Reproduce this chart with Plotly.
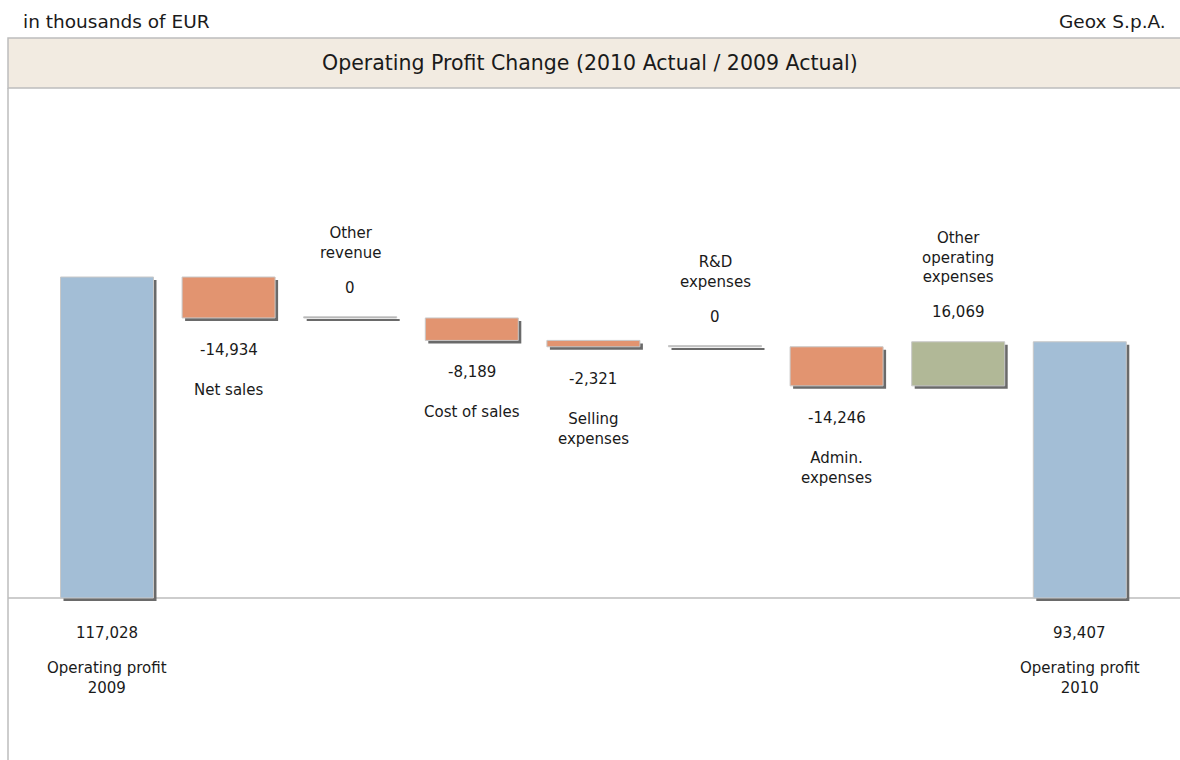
import plotly.graph_objects as go

# ---------------- data ----------------
categories = ["Operating profit<br>2009", "Net sales", "Other<br>revenue", "Cost of sales",
              "Selling<br>expenses", "R&D<br>expenses", "Admin.<br>expenses",
              "Other<br>operating<br>expenses", "Operating profit<br>2010"]
values = [117028, -14934, 0, -8189, -2321, 0, -14246, 16069, 93407]
kinds = ["total", "delta", "delta", "delta", "delta", "delta", "delta", "delta", "total"]
value_labels = ["117,028", "-14,934", "0", "-8,189", "-2,321", "0", "-14,246", "16,069", "93,407"]

# ---------------- styles ----------------
C_TOTAL = "#A3BED6"
C_NEG = "#E29470"
C_POS = "#B1B897"
C_ZERO = "#9A9A9A"
SHADOW = "#6A6A6A"
FONT = "DejaVu Sans"
TXT = "#1a1a1a"

W, H = 1180, 760
TOP = 88           # top of plot area (below header band)
ZERO_PX = 598      # pixel row of baseline
PX_PER_UNIT = 321 / 117028.0
X_PX0 = 8          # left edge of plot area
STEP_PX = 121.6    # distance between bar centres
FIRST_PX = 107     # centre of first bar
PW = W - X_PX0
PH = H - TOP


def px(p):
    return (p - X_PX0) / PW


def py(q):
    return (H - q) / PH


# waterfall geometry
bases, heights, colors = [], [], []
level = 0
for v, k in zip(values, kinds):
    if k == "total":
        bases.append(0)
        heights.append(v)
        colors.append(C_TOTAL)
        level = v
    else:
        if v == 0:
            bases.append(level)
            heights.append(1.2 / PX_PER_UNIT)
            colors.append(C_ZERO)
        else:
            bases.append(level)
            heights.append(v)
            colors.append(C_NEG if v < 0 else C_POS)
        level += v

xs = list(range(len(categories)))
bar_w = 93 / STEP_PX
sh_dx = 3 / STEP_PX
sh_dy = 3 / PX_PER_UNIT

fig = go.Figure()
# shadows
shadow_base = [min(b, b + h) - sh_dy for b, h in zip(bases, heights)]
shadow_h = [abs(h) for h in heights]
fig.add_trace(go.Bar(x=[x + sh_dx for x in xs], y=shadow_h, base=shadow_base, width=bar_w,
                     marker=dict(color=SHADOW, line=dict(width=0)), hoverinfo="skip",
                     showlegend=False))
fig.add_trace(go.Bar(x=xs, y=heights, base=bases, width=bar_w,
                     marker=dict(color=colors, line=dict(color="#C8C8C8", width=1)),
                     hoverinfo="skip", showlegend=False))

ann = []
level = 0
for i, (v, k) in enumerate(zip(values, kinds)):
    if k == "total":
        ann.append(dict(x=i, y=0, text=value_labels[i], yanchor="middle", yshift=-35))
        ann.append(dict(x=i, y=0, text=categories[i], yanchor="top", yshift=-59))
        level = v
    else:
        new = level + v
        if v < 0:
            lo = new
            ann.append(dict(x=i, y=lo, text=value_labels[i], yanchor="middle", yshift=-32))
            ann.append(dict(x=i, y=lo, text=categories[i], yanchor="top", yshift=-61))
        else:
            hi = new
            ann.append(dict(x=i, y=hi, text=value_labels[i], yanchor="middle", yshift=30))
            ann.append(dict(x=i, y=hi, text=categories[i], yanchor="bottom", yshift=54))
        level = new
for a in ann:
    a.update(xref="x", yref="y", showarrow=False, xanchor="center",
             font=dict(family=FONT, size=15, color=TXT))

# header texts
ann.append(dict(x=px(21), y=py(22), xref="paper", yref="paper", text="in thousands of EUR",
                showarrow=False, xanchor="left", yanchor="middle",
                font=dict(family=FONT, size=18.5, color=TXT)))
ann.append(dict(x=px(1168), y=py(22), xref="paper", yref="paper", text="Geox S.p.A.",
                showarrow=False, xanchor="right", yanchor="middle",
                font=dict(family=FONT, size=18.5, color=TXT)))
ann.append(dict(x=px(590), y=py(63), xref="paper", yref="paper",
                text="Operating Profit Change (2010 Actual / 2009 Actual)",
                showarrow=False, xanchor="center", yanchor="middle",
                font=dict(family=FONT, size=20.5, color=TXT)))

shapes = [
    dict(type="rect", xref="paper", yref="paper", x0=px(8), x1=px(1182), y0=py(88), y1=py(38),
         fillcolor="#F2EBE1", line=dict(color="#BDBDBD", width=1.5), layer="below"),
    dict(type="line", xref="paper", yref="paper", x0=px(8), x1=px(8), y0=py(760), y1=py(88),
         line=dict(color="#BDBDBD", width=1.5)),
    dict(type="line", xref="paper", yref="y", x0=px(8), x1=px(1182), y0=0, y1=0,
         line=dict(color="#BDBDBD", width=1.5), layer="below"),
]

x0 = -(FIRST_PX - X_PX0) / STEP_PX
x1 = x0 + PW / STEP_PX
y0 = -(H - ZERO_PX) / PX_PER_UNIT
y1 = (ZERO_PX - TOP) / PX_PER_UNIT

fig.update_layout(
    width=W, height=H,
    margin=dict(l=X_PX0, r=0, t=TOP, b=0),
    paper_bgcolor="white", plot_bgcolor="white",
    barmode="overlay",
    xaxis=dict(range=[x0, x1], visible=False, fixedrange=True),
    yaxis=dict(range=[y0, y1], visible=False, fixedrange=True),
    annotations=ann, shapes=shapes,
)

fig.write_html("out.html", config={"displayModeBar": False},
               post_script="document.body.style.margin='0';")
